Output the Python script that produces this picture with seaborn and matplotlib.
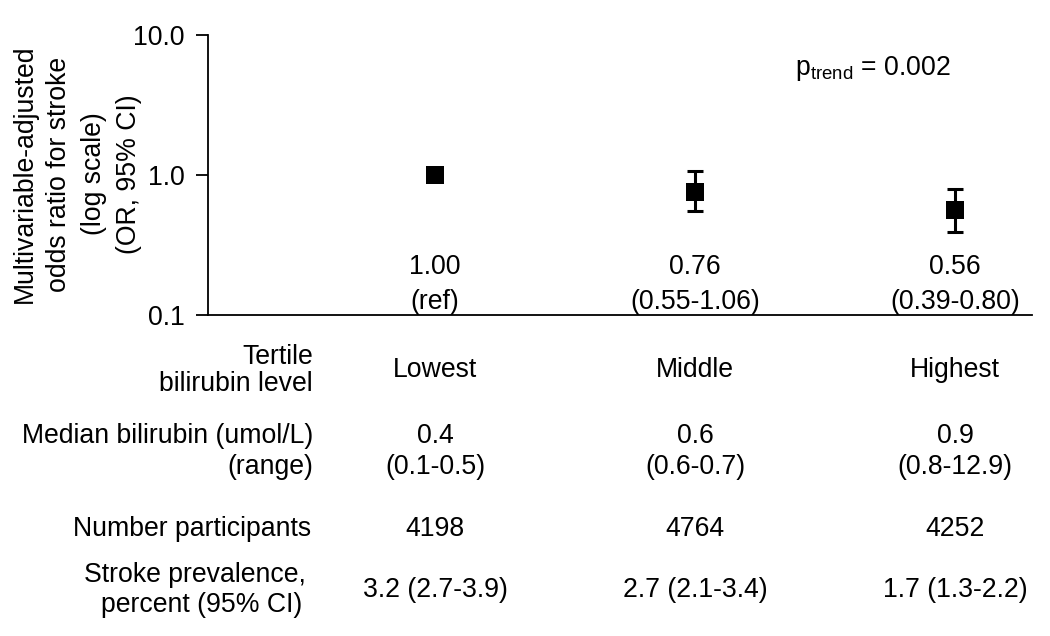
import numpy as np
import pandas as pd
import matplotlib
matplotlib.use("Agg")
import matplotlib.pyplot as plt
import matplotlib.transforms as mtransforms
import seaborn as sns

# ---- data ----
tertiles = ["Lowest", "Middle", "Highest"]
odds_ratio = [1.00, 0.76, 0.56]
ci_low = [np.nan, 0.55, 0.39]
ci_high = [np.nan, 1.06, 0.80]
or_labels = ["1.00\n(ref)", "0.76\n(0.55-1.06)", "0.56\n(0.39-0.80)"]
median_bili = ["0.4", "0.6", "0.9"]
range_bili = ["(0.1-0.5)", "(0.6-0.7)", "(0.8-12.9)"]
n_participants = ["4198", "4764", "4252"]
stroke_prev = ["3.2 (2.7-3.9)", "2.7 (2.1-3.4)", "1.7 (1.3-2.2)"]
y_ticks = [0.1, 1.0, 10.0]
y_ticklabels = ["0.1", "1.0", "10.0"]
p_trend = "0.002"

sns.set_style("white")
plt.rcParams["font.family"] = ["Liberation Sans", "DejaVu Sans"]
plt.rcParams["mathtext.fontset"] = "custom"
plt.rcParams["mathtext.rm"] = "Liberation Sans"
plt.rcParams["mathtext.it"] = "Liberation Sans:italic"
plt.rcParams["text.color"] = "black"
plt.rcParams["axes.labelcolor"] = "black"
plt.rcParams["xtick.color"] = "black"
plt.rcParams["ytick.color"] = "black"

FS = 19.2

fig = plt.figure(figsize=(10.5, 6.36), dpi=100)
ax = fig.add_axes([208 / 1050, 1 - 315 / 636, (1032 - 208) / 1050, (315 - 35) / 636])

pos = np.arange(len(tertiles))
df = pd.DataFrame({"pos": pos, "or": odds_ratio, "lo": ci_low, "hi": ci_high})

# error bars (CI)
mask = ~df["lo"].isna()
ax.errorbar(df.loc[mask, "pos"], df.loc[mask, "or"],
            yerr=[df.loc[mask, "or"] - df.loc[mask, "lo"], df.loc[mask, "hi"] - df.loc[mask, "or"]],
            fmt="none", ecolor="black", elinewidth=2.2, capsize=5.5, capthick=2.2, zorder=2)

sns.scatterplot(data=df, x="pos", y="or", marker="s", s=160, color="black",
                edgecolor="black", linewidth=0, ax=ax, zorder=3, legend=False)

ax.set_yscale("log")
ax.set_ylim(0.1, 10.0)
ax.set_xlim(-0.873, 2.296)
ax.set_yticks(y_ticks)
ax.set_yticklabels(y_ticklabels, fontsize=FS)
ax.yaxis.set_minor_locator(matplotlib.ticker.NullLocator())
ax.set_xticks([])
ax.set_xlabel("")
ax.set_ylabel("")
ax.tick_params(axis="y", direction="out", length=9, width=1.3, pad=8, colors="black", left=True)
for s in ["top", "right"]:
    ax.spines[s].set_visible(False)
for s in ["left", "bottom"]:
    ax.spines[s].set_color("black")
    ax.spines[s].set_linewidth(1.3)

# OR annotation under each marker
ax_tr = mtransforms.blended_transform_factory(ax.transData, ax.transAxes)
for x, lab in zip(pos, or_labels):
    l1, l2 = lab.split("\n")
    ax.text(x, (315 - 267) / 280, l1, transform=ax_tr, ha="center", va="center", fontsize=FS)
    ax.text(x, (315 - 302) / 280, l2, transform=ax_tr, ha="center", va="center", fontsize=FS)

# p trend
fig.text(795 / 1050, 1 - 75 / 636, r"p$_{\mathrm{trend}}$ = " + p_trend, ha="left",
         va="baseline", fontsize=FS)

# y label
fig.text(77 / 1050, 1 - 174 / 636,
         "Multivariable-adjusted\nodds ratio for stroke\n(log scale)\n(OR, 95% CI)",
         rotation=90, ha="center", va="center", multialignment="center",
         fontsize=FS, linespacing=1.45)

# table below
fig_tr = mtransforms.blended_transform_factory(ax.transData, fig.transFigure)

def fy(py):
    return 1 - py / 636

row_labels = [
    ("Tertile", 313, 357),
    ("bilirubin level", 313, 384),
    ("Median bilirubin (umol/L)", 313, 436),
    ("(range)", 313, 467),
    ("Number participants", 311, 529),
    ("Stroke prevalence,", 306, 575),
    ("percent (95% CI)", 302, 605),
]
for txt, rx, py in row_labels:
    fig.text(rx / 1050, fy(py), txt, ha="right", va="center", fontsize=FS)

for x, t, m, r, n, s in zip(pos, tertiles, median_bili, range_bili, n_participants, stroke_prev):
    fig.text(x, fy(370), t, transform=fig_tr, ha="center", va="center", fontsize=FS)
    fig.text(x, fy(436), m, transform=fig_tr, ha="center", va="center", fontsize=FS)
    fig.text(x, fy(467), r, transform=fig_tr, ha="center", va="center", fontsize=FS)
    fig.text(x, fy(529), n, transform=fig_tr, ha="center", va="center", fontsize=FS)
    fig.text(x, fy(590), s, transform=fig_tr, ha="center", va="center", fontsize=FS)

fig.savefig("out.png", dpi=100, facecolor="white")
